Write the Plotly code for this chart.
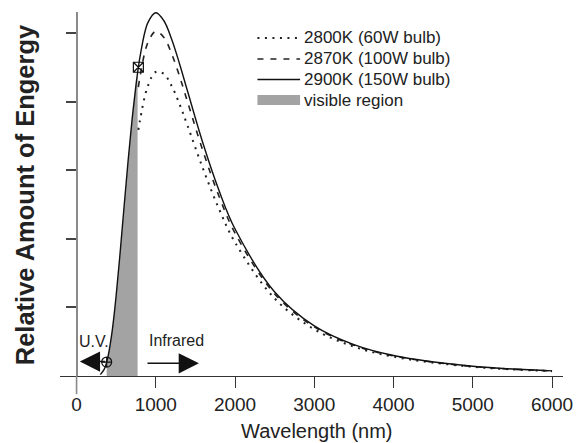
import plotly.graph_objects as go

# ---- data (relative energy, y-tick units) ----
wl_2900 = [300, 350, 380, 400, 450, 500, 550, 600, 650, 700, 750, 770, 780, 800, 900,
           1000, 1100, 1200, 1300, 1400, 1600, 1800, 2000, 2500, 3000, 3500, 4000, 5000, 6000]
e_2900 = [0.020, 0.100, 0.203, 0.301, 0.663, 1.179, 1.805, 2.477, 3.136, 3.736, 4.247, 4.422, 4.504, 4.653, 5.155,
          5.300, 5.186, 4.913, 4.552, 4.157, 3.376, 2.697, 2.144, 1.226, 0.731, 0.457, 0.299, 0.142, 0.075]

wl_2870 = [780, 800, 900, 1000, 1100, 1200, 1300, 1400, 1600, 1800, 2000, 2500, 3000, 3500, 4000, 5000, 6000]
e_2870 = [4.214, 4.361, 4.865, 5.028, 4.943, 4.700, 4.371, 4.001, 3.264, 2.615, 2.084, 1.197, 0.716, 0.449, 0.293, 0.139, 0.074]

wl_2800 = [780, 800, 900, 1000, 1100, 1200, 1300, 1400, 1600, 1800, 2000, 2500, 3000, 3500, 4000, 5000, 6000]
e_2800 = [3.590, 3.730, 4.233, 4.435, 4.409, 4.231, 3.964, 3.652, 3.010, 2.430, 1.948, 1.130, 0.681, 0.428, 0.281, 0.134, 0.071]

visible_lo, visible_hi = 380, 770
marker_wl = [380, 780]

legend_labels = ["2800K (60W bulb)", "2870K (100W bulb)", "2900K (150W bulb)", "visible region"]
x_ticks = [0, 1000, 2000, 3000, 4000, 5000, 6000]
y_ticks = [1, 2, 3, 4, 5]

FONT = "Liberation Sans, Arial, sans-serif"
INK = "#222"
GRAY_FILL = "#a3a3a3"
DOT = "2px,5.5px"
DASH = "6px,7px"

vis_x = [w for w in wl_2900 if visible_lo <= w <= visible_hi]
vis_y = [e for w, e in zip(wl_2900, e_2900) if visible_lo <= w <= visible_hi]
mk_y = [e_2900[wl_2900.index(w)] for w in marker_wl]

fig = go.Figure()
fig.add_trace(go.Scatter(x=vis_x, y=vis_y, fill="tozeroy", fillcolor=GRAY_FILL,
                         mode="lines", line=dict(width=0, shape="spline", color=GRAY_FILL),
                         name=legend_labels[3]))
fig.add_trace(go.Scatter(x=wl_2800, y=e_2800, mode="lines", name=legend_labels[0],
                         line=dict(color=INK, width=2, dash=DOT, shape="spline")))
fig.add_trace(go.Scatter(x=wl_2870, y=e_2870, mode="lines", name=legend_labels[1],
                         line=dict(color=INK, width=1.6, dash=DASH, shape="spline")))
fig.add_trace(go.Scatter(x=wl_2900, y=e_2900, mode="lines", name=legend_labels[2],
                         line=dict(color="#111", width=1.4, shape="spline")))
fig.add_trace(go.Scatter(x=marker_wl, y=mk_y, mode="markers",
                         marker=dict(symbol=["circle-cross-open", "square-x-open"], size=10,
                                     color="#111", line=dict(width=1.2, color="#111"))))

# ---- plot-area geometry (pixels) and a compact hand-placed key ----
PLOT_L, PLOT_W, PLOT_T, PLOT_B = 60, 507, 12, 376
PLOT_H = PLOT_B - PLOT_T
def px(xp):
    return (xp - PLOT_L) / PLOT_W
def py(yp):
    return (PLOT_B - yp) / PLOT_H

leg_rows = [38, 59, 79.5, 100]
leg_x0, leg_x1, leg_tx = 259, 302, 304
leg_styles = [dict(color=INK, width=2, dash=DOT), dict(color=INK, width=1.5, dash=DASH),
              dict(color="#111", width=1.4)]

shapes = [dict(type="line", xref="x", yref="paper", x0=0, x1=0, y0=0, y1=-0.05,
               line=dict(color="#8a8a8a", width=1.6))]
for row, style in zip(leg_rows[:3], leg_styles):
    shapes.append(dict(type="line", xref="paper", yref="paper", x0=px(leg_x0), x1=px(leg_x1),
                       y0=py(row), y1=py(row), line=style))
shapes.append(dict(type="rect", xref="paper", yref="paper", x0=px(leg_x0), x1=px(leg_x1),
                   y0=py(leg_rows[3] + 5), y1=py(leg_rows[3] - 5), fillcolor=GRAY_FILL, line=dict(width=0)))

annotations = [
    dict(text="<b>Relative Amount of Engergy</b>", xref="paper", yref="paper",
         x=px(25), y=py(195), xanchor="center", yanchor="middle", textangle=-90, showarrow=False,
         font=dict(size=25.5, family=FONT, color=INK)),
    dict(text="Wavelength (nm)", xref="paper", yref="paper", x=px(319), y=py(431),
         xanchor="center", yanchor="middle", showarrow=False, font=dict(size=20, family=FONT, color=INK)),
    dict(text="U.V.", x=223, y=0.50, xref="x", yref="y", xanchor="center", yanchor="middle",
         showarrow=False, font=dict(size=16, family=FONT, color=INK)),
    dict(text="Infrared", x=1256, y=0.515, xref="x", yref="y", xanchor="center", yanchor="middle",
         showarrow=False, font=dict(size=16, family=FONT, color=INK)),
    dict(text="", x=41, y=0.21, ax=380, ay=0.21, xref="x", yref="y", axref="x", ayref="y",
         showarrow=True, arrowhead=2, arrowsize=2.7, arrowwidth=1.5, arrowcolor="#111"),
    dict(text="", x=1544, y=0.185, ax=876, ay=0.185, xref="x", yref="y", axref="x", ayref="y",
         showarrow=True, arrowhead=2, arrowsize=2.7, arrowwidth=1.5, arrowcolor="#111"),
]
for row, label in zip(leg_rows, legend_labels):
    annotations.append(dict(text=label, xref="paper", yref="paper", x=px(leg_tx), y=py(row),
                            xanchor="left", yanchor="middle", showarrow=False,
                            font=dict(size=17, family=FONT, color=INK)))

fig.update_layout(
    width=585, height=443,
    margin=dict(l=PLOT_L, r=585 - PLOT_L - PLOT_W, t=PLOT_T, b=443 - PLOT_B),
    paper_bgcolor="white", plot_bgcolor="white",
    font=dict(family=FONT, color=INK),
    showlegend=False,
    xaxis=dict(range=[-209, 6138], tickvals=x_ticks, ticks="outside", ticklen=11, tickwidth=1.2,
               tickcolor="#333", showline=True, linecolor="#333", linewidth=1.4, showgrid=False,
               zeroline=False, tickfont=dict(size=19, family=FONT, color=INK)),
    yaxis=dict(range=[0, 5.31], tickvals=y_ticks, ticks="outside", ticklen=10, tickwidth=1.5,
               tickcolor="#444", showline=True, linecolor="#8a8a8a", linewidth=1.6, showgrid=False,
               zeroline=False, showticklabels=False, anchor="free", position=16.7 / PLOT_W),
    shapes=shapes,
    annotations=annotations,
)

fig.write_html("out.html", config={"displayModeBar": False},
               post_script="document.body.style.margin='0';document.body.style.overflow='hidden';")
